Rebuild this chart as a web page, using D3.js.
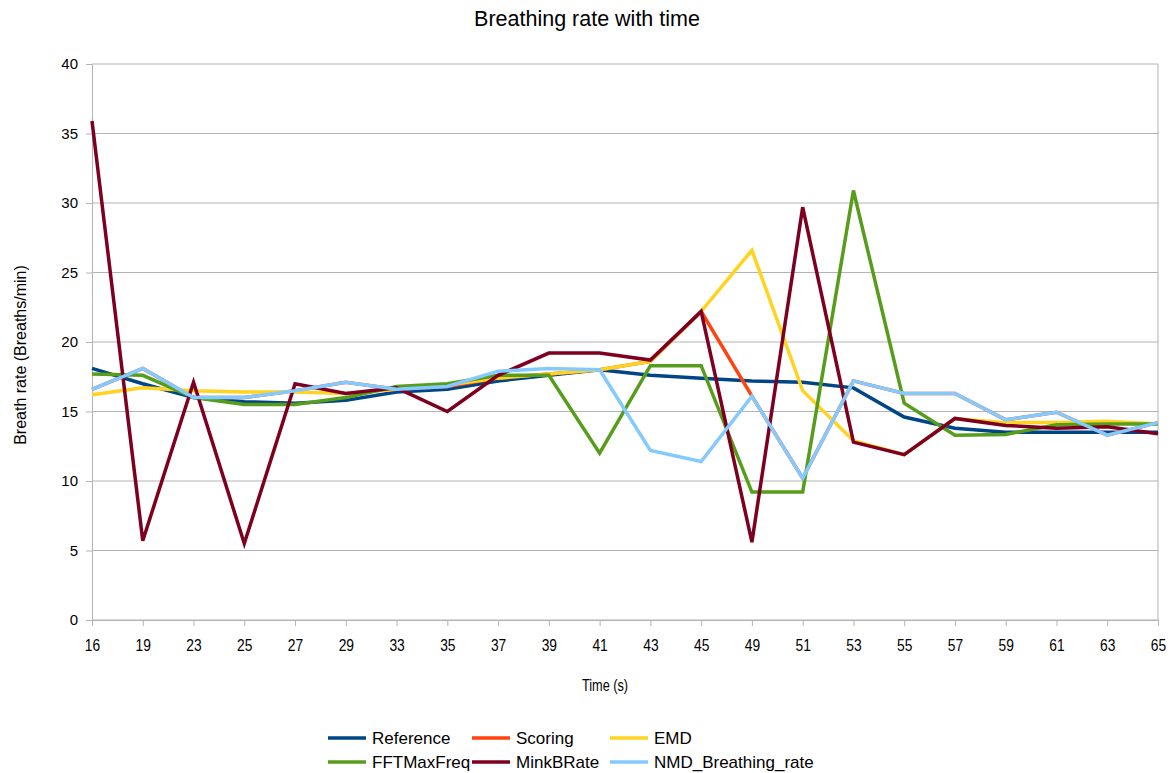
<!DOCTYPE html>
<html>
<head>
<meta charset="utf-8">
<script src="https://cdn.jsdelivr.net/npm/d3@7"></script>
<style>
  html, body { margin: 0; padding: 0; background: #fff; }
  svg { display: block; font-family: "Liberation Sans", Arial, sans-serif; }
</style>
</head>
<body>
<svg id="chart" width="1174" height="773"></svg>
<script>
// Sample times (s), shown as evenly spaced categories
const times = ["16","19","23","25","27","29","33","35","37","39","41","43","45","49","51","53","55","57","59","61","63","65"];

// Breathing rate estimates (breaths/min) for each method
const reference   = [18.1,17.0,16.0,15.7,15.6,15.8,16.4,16.6,17.2,17.6,18.0,17.6,17.4,17.2,17.1,16.7,14.6,13.8,13.5,13.5,13.5,13.5];
const scoring     = [16.6,18.1,16.0,16.0,16.5,17.1,16.6,16.8,17.4,17.7,18.0,18.6,22.2,16.1,10.2,17.2,16.3,16.3,14.4,14.95,13.3,14.2];
const emd         = [16.2,16.7,16.5,16.4,16.4,16.3,16.6,16.9,17.4,17.7,18.0,18.6,22.2,26.6,16.5,12.9,11.9,14.5,14.2,14.2,14.3,14.1];
const fftMaxFreq  = [17.7,17.6,16.0,15.5,15.5,16.0,16.8,17.0,17.6,17.6,12.0,18.3,18.3,9.2,9.2,30.9,15.6,13.3,13.35,14.05,14.1,14.1];
const minkBRate   = [35.9,5.7,17.1,5.5,17.0,16.3,16.7,15.0,17.6,19.2,19.2,18.7,22.2,5.6,29.7,12.8,11.9,14.5,14.0,13.8,13.9,13.4];
const nmdRate     = [16.6,18.1,16.0,16.0,16.5,17.1,16.6,16.8,17.9,18.1,18.0,12.2,11.4,16.1,10.2,17.2,16.3,16.3,14.4,14.95,13.3,14.2];

const seriesNames  = ["Reference","Scoring","EMD","FFTMaxFreq","MinkBRate","NMD_Breathing_rate"];
const seriesValues = [reference, scoring, emd, fftMaxFreq, minkBRate, nmdRate];
const seriesColors = ["#004586","#ff420e","#ffd320","#579d1c","#7e0021","#83caff"];

const yTicks = [0,5,10,15,20,25,30,35,40];

const svg = d3.select("#chart");
const plotLeft = 92, plotRight = 1158, plotTop = 64, plotBottom = 620;

const x = d3.scalePoint().domain(times).range([plotLeft, plotRight]);
const y = d3.scaleLinear().domain([0, 40]).range([plotBottom, plotTop]);

const gridColor = "#b3b3b3";

// Horizontal gridlines
svg.append("g").selectAll("line").data(yTicks).join("line")
  .attr("x1", plotLeft).attr("x2", plotRight)
  .attr("y1", d => y(d)).attr("y2", d => y(d))
  .attr("stroke", gridColor).attr("stroke-width", 1);

// Right border of the plot area
svg.append("line")
  .attr("x1", plotRight).attr("x2", plotRight).attr("y1", plotTop).attr("y2", plotBottom)
  .attr("stroke", gridColor);

// Y axis
const yAxis = svg.append("g").attr("transform", `translate(${plotLeft},0)`)
  .call(d3.axisLeft(y).tickValues(yTicks).tickSize(6).tickPadding(8));
yAxis.select(".domain").attr("stroke", gridColor);
yAxis.selectAll(".tick line").attr("stroke", gridColor);
yAxis.selectAll(".tick text").attr("font-size", 15).attr("fill", "#000")
  .attr("font-family", "Liberation Sans, Arial, sans-serif");

// X axis (labels drawn slightly tall and narrow)
const xAxis = svg.append("g").attr("transform", `translate(0,${plotBottom})`)
  .call(d3.axisBottom(x).tickSize(6).tickPadding(0));
xAxis.select(".domain").attr("stroke", gridColor);
xAxis.selectAll(".tick line").attr("stroke", gridColor);
xAxis.selectAll(".tick text")
  .attr("font-size", 15).attr("fill", "#000")
  .attr("font-family", "Liberation Sans, Arial, sans-serif")
  .attr("dy", null).attr("y", null)
  .attr("transform", "translate(0,31) scale(0.92,1.15)");

// Series lines
const line = d3.line().x((d, i) => x(times[i])).y(d => y(d));
svg.append("g").selectAll("path").data(seriesValues).join("path")
  .attr("d", d => line(d))
  .attr("fill", "none")
  .attr("stroke", (d, i) => seriesColors[i])
  .attr("stroke-width", 3.5)
  .attr("stroke-linejoin", "miter");

// Titles
svg.append("text").attr("x", 587).attr("y", 26).attr("text-anchor", "middle")
  .attr("font-size", 21.5).text("Breathing rate with time");
svg.append("text").attr("transform", "translate(26,355) rotate(-90)")
  .attr("text-anchor", "middle").attr("font-size", 16).text("Breath rate (Breaths/min)");
svg.append("text").attr("transform", "translate(605,691) scale(0.85,1.15)")
  .attr("text-anchor", "middle").attr("font-size", 15).text("Time (s)");

// Legend: two rows of three entries
const legendCols = [328, 472, 610];
const legendRows = [738, 762];
const legend = svg.append("g").selectAll("g").data(seriesNames).join("g")
  .attr("transform", (d, i) => `translate(${legendCols[i % 3]},${legendRows[Math.floor(i / 3)]})`);
legend.append("line").attr("x1", 0).attr("x2", 38).attr("y1", 0).attr("y2", 0)
  .attr("stroke", (d, i) => seriesColors[i]).attr("stroke-width", 3.5);
legend.append("text").attr("x", 44).attr("y", 6).attr("font-size", 17).text(d => d);
</script>
</body>
</html>
